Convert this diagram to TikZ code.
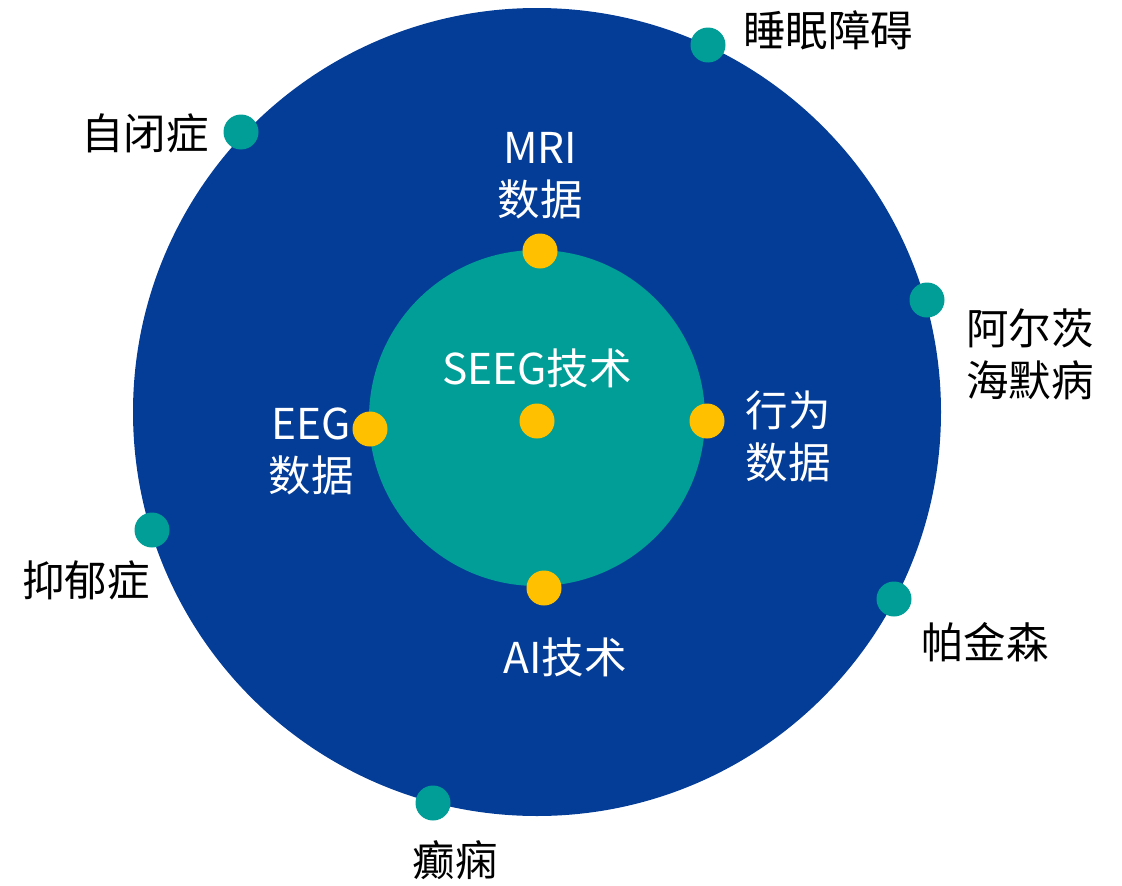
\documentclass[tikz,border=0pt]{standalone}
\usepackage{fontspec}
\setmainfont{Noto Sans CJK SC}
\definecolor{outerblue}{RGB}{4,61,152}
\definecolor{tealc}{RGB}{0,158,150}
\definecolor{yell}{RGB}{255,192,0}
\begin{document}
\begin{tikzpicture}[x=1pt,y=-1pt,
  dot/.style={circle,inner sep=0pt,minimum size=35pt},
  tdot/.style={dot,fill=tealc},
  ydot/.style={dot,fill=yell},
  lbl/.style={font=\fontsize{42.5}{52}\selectfont,align=center,inner sep=0pt},
  wlbl/.style={lbl,text=white},
  blbl/.style={lbl,text=black}]
\useasboundingbox (0,0) rectangle (1122,886);
\node[circle,fill=outerblue,minimum size=808pt,inner sep=0pt] (outer) at (537,412) {};
\node[circle,fill=tealc,minimum size=336pt,inner sep=0pt] (inner) at (537,418) {};
% yellow dots
\node[ydot] (y1) at (540,251) {};
\node[ydot] (y2) at (370,429) {};
\node[ydot] (y3) at (537,421) {};
\node[ydot] (y4) at (707,421) {};
\node[ydot] (y5) at (544,588) {};
% teal dots
\node[tdot] (t1) at (708,45) {};
\node[tdot] (t2) at (241,132) {};
\node[tdot] (t3) at (927,300) {};
\node[tdot] (t4) at (152,530) {};
\node[tdot] (t5) at (894,599) {};
\node[tdot] (t6) at (433,803) {};
% inner labels
\node[wlbl] (mri) at (540,176) {MRI\\数据};
\node[wlbl] (seeg) at (537,368) {SEEG技术};
\node[wlbl] (eeg) at (311,451) {EEG\\数据};
\node[wlbl] (beh) at (788,436) {行为\\数据};
\node[wlbl] (ai) at (565,657) {AI技术};
% outer labels
\node[blbl] (l1) at (828,30) {睡眠障碍};
\node[blbl] (l2) at (145,133) {自闭症};
\node[blbl] (l3) at (1030,354) {阿尔茨\\海默病};
\node[blbl] (l4) at (86,580) {抑郁症};
\node[blbl] (l5) at (985,642) {帕金森};
\node[blbl] (l6) at (455,860) {癫痫};
\end{tikzpicture}
\end{document}
